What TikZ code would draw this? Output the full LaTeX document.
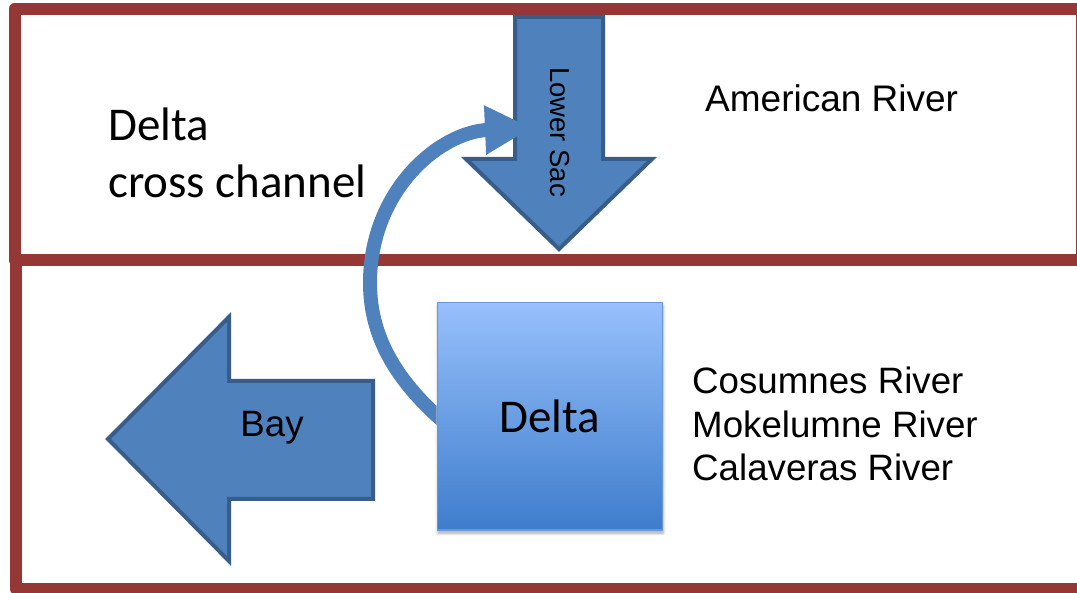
\documentclass[tikz,border=0pt]{standalone}
\usepackage{fontspec}
\setmainfont{Carlito}
\newfontfamily\arialfont{Liberation Sans}
\usetikzlibrary{arrows.meta,shadows.blur,calc}
\definecolor{regionred}{RGB}{149,55,53}
\definecolor{flow}{RGB}{79,129,189}
\definecolor{flowedge}{RGB}{56,93,138}
\definecolor{deltatop}{RGB}{151,192,252}
\definecolor{deltabot}{RGB}{62,125,204}
\tikzset{
	region/.style={draw=regionred, line width=12pt},
	block/.style={fill=flow, draw=flowedge, line width=4pt, line join=miter},
	flowline/.style={draw=flow, line width=14pt, -{Triangle[length=47pt, width=46pt]}},
	deltabox/.style={draw={rgb,255:red,104;green,152;blue,216}, line width=1pt, top color=deltatop, bottom color=deltabot,
		minimum width=225pt, minimum height=227pt, inner sep=0pt, font=\fontsize{47pt}{56pt}\selectfont,
		blur shadow={shadow xshift=1pt, shadow yshift=-3pt, shadow blur radius=3pt, shadow opacity=35}},
	calitext/.style={inner sep=0pt, font=\fontsize{47pt}{57pt}\selectfont},
	arialtext/.style={inner sep=0pt, font=\arialfont\fontsize{36.7pt}{43.5pt}\selectfont}
}
\begin{document}
\begin{tikzpicture}[x=1pt, y=-1pt, line join=round]
	\useasboundingbox (0,0) rectangle (1077,593);
	\clip (0,0) rectangle (1077,593);
	\draw[region] (16,260.5) rectangle (1100,589);
	\draw[region] (14.5,9) rectangle (1082,260.5);
	\path (515,17) coordinate (S1) (603,17) coordinate (S2) (603,159) coordinate (S3) (652,159) coordinate (S4)
		(559,249) coordinate (S5) (466,159) coordinate (S6) (515,159) coordinate (S7);
	\draw[block] (S1)--(S2)--(S3)--(S4)--(S5)--(S6)--(S7)--cycle;
	\path (108,439) coordinate (B1) (229,317) coordinate (B2) (229,381) coordinate (B3) (373,381) coordinate (B4)
		(373,499) coordinate (B5) (229,499) coordinate (B6) (229,561) coordinate (B7);
	\draw[block] (B1)--(B2)--(B3)--(B4)--(B5)--(B6)--(B7)--cycle;
	\node[arialtext, font=\arialfont\fontsize{27.5pt}{32pt}\selectfont, rotate=-90] (sac) at (560,132) {Lower Sac};
	\node[arialtext, anchor=base] (bay) at (272,437) {Bay};
	\node[deltabox] (delta) at (549.5,416.5) {Delta};
	\coordinate (sacin) at (532,128);
	\begin{scope}[even odd rule]
		\clip (0,0) rectangle (1077,593) (delta.south west) rectangle (delta.north east);
		\draw[flowline] ($(delta.west)+(15,12)$) .. controls +(-52,-43) and (370,340) .. (370,283)
			.. controls (370,190) and (440,132) .. (sacin);
	\end{scope}
	\node[calitext, anchor=north west, align=left] (crossing) at (108,108) {Delta\\cross channel};
	\node[arialtext, font=\arialfont\fontsize{37pt}{43.5pt}\selectfont, anchor=base west] (american) at (705,112) {American River};
	\node[arialtext, anchor=north west, align=left] (tribs) at (692,367) {Cosumnes River\\Mokelumne River\\Calaveras River};
\end{tikzpicture}
\end{document}
